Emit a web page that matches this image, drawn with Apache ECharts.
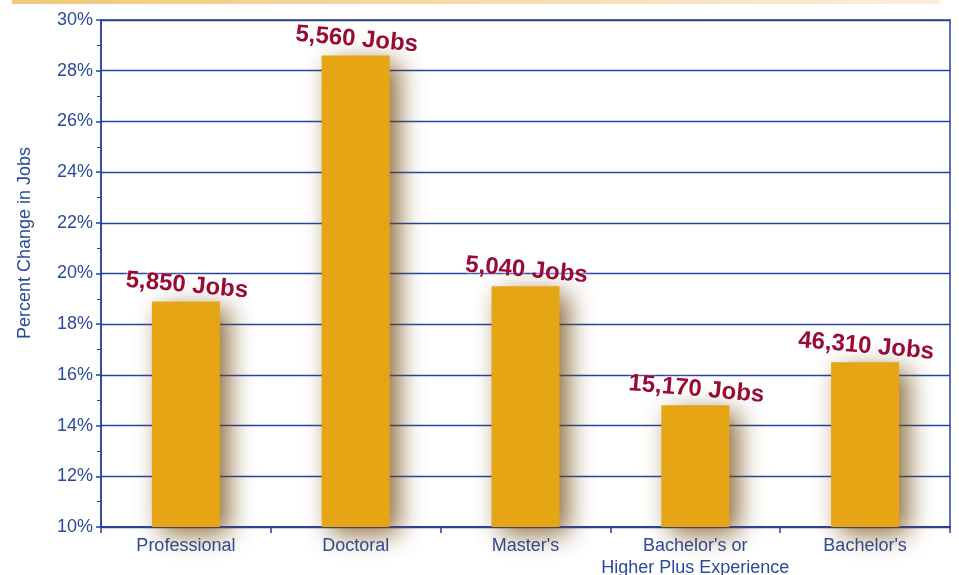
<!DOCTYPE html>
<html><head><meta charset="utf-8">
<script src="https://cdn.jsdelivr.net/npm/echarts@6/dist/echarts.min.js"></script>
<style>html,body{margin:0;padding:0;background:#fff}#c{width:959px;height:575px}</style>
</head><body><div id="c"></div>
<script>
const categories = ["Professional", "Doctoral", "Master's", "Bachelor's or\nHigher Plus Experience", "Bachelor's"];
const percentChange = [18.9, 28.6, 19.5, 14.8, 16.5];
const jobLabels = ["5,850 Jobs", "5,560 Jobs", "5,040 Jobs", "15,170 Jobs", "46,310 Jobs"];
const yTicks = [10, 12, 14, 16, 18, 20, 22, 24, 26, 28, 30];
const yAxisTitle = 'Percent Change in Jobs';

const blue = '#26429a';
const txtBlue = '#2b4a9c';
const chart = echarts.init(document.getElementById('c'));
chart.setOption({
  animation: false,
  graphic: [{
    type: 'rect', left: 12, top: 0, shape: { width: 928, height: 4 },
    style: { fill: new echarts.graphic.LinearGradient(0, 0, 1, 0, [
      { offset: 0, color: '#f0c878' }, { offset: 1, color: '#fbeedd' }]) }
  }, {
    type: 'text', x: 25, y: 243, rotation: Math.PI / 2,
    style: { text: yAxisTitle, fill: txtBlue, font: '18px "Liberation Sans", Arial', align: 'center', verticalAlign: 'middle' }
  }],
  grid: { left: 101, right: 9, top: 20, bottom: 48, outerBoundsMode: 'none', containLabel: false, show: true, borderColor: blue, borderWidth: 1.5, backgroundColor: 'transparent' },
  xAxis: {
    type: 'category', data: categories,
    axisLine: { lineStyle: { color: blue, width: 2 } },
    axisTick: { show: true, lineStyle: { color: blue, width: 1.5 }, length: 6 },
    axisLabel: { color: txtBlue, fontSize: 18, fontFamily: 'Liberation Sans, Arial', margin: 8, lineHeight: 22, interval: 0 }
  },
  yAxis: {
    type: 'value', min: 10, max: 30, interval: 2,
    axisLine: { show: true, lineStyle: { color: blue, width: 1.5 } },
    axisTick: { show: true, inside: false, length: 5, lineStyle: { color: blue, width: 1.5 } },
    minorTick: { show: true, splitNumber: 2, length: 4, lineStyle: { color: blue, width: 1 } },
    axisLabel: { color: txtBlue, fontSize: 18, fontFamily: 'Liberation Sans, Arial', margin: 8, formatter: v => yTicks.includes(v) ? v + '%' : '' },
    splitLine: { show: true, lineStyle: { color: blue, width: 1.3 } }
  },
  series: [{
    type: 'bar', data: percentChange, barWidth: 68,
    itemStyle: { color: '#e5a515', shadowColor: 'rgba(110,70,10,0.8)', shadowBlur: 26, shadowOffsetX: 9, shadowOffsetY: 7 },
    label: {
      show: true, position: 'top', distance: 4, rotate: -5,
      formatter: p => jobLabels[p.dataIndex],
      color: '#9a0a35', fontSize: 24, fontWeight: 'bold', fontFamily: 'Liberation Sans, Arial',
      textShadowColor: 'rgba(255,255,255,0.9)', textShadowBlur: 4
    }
  }]
});
</script></body></html>
